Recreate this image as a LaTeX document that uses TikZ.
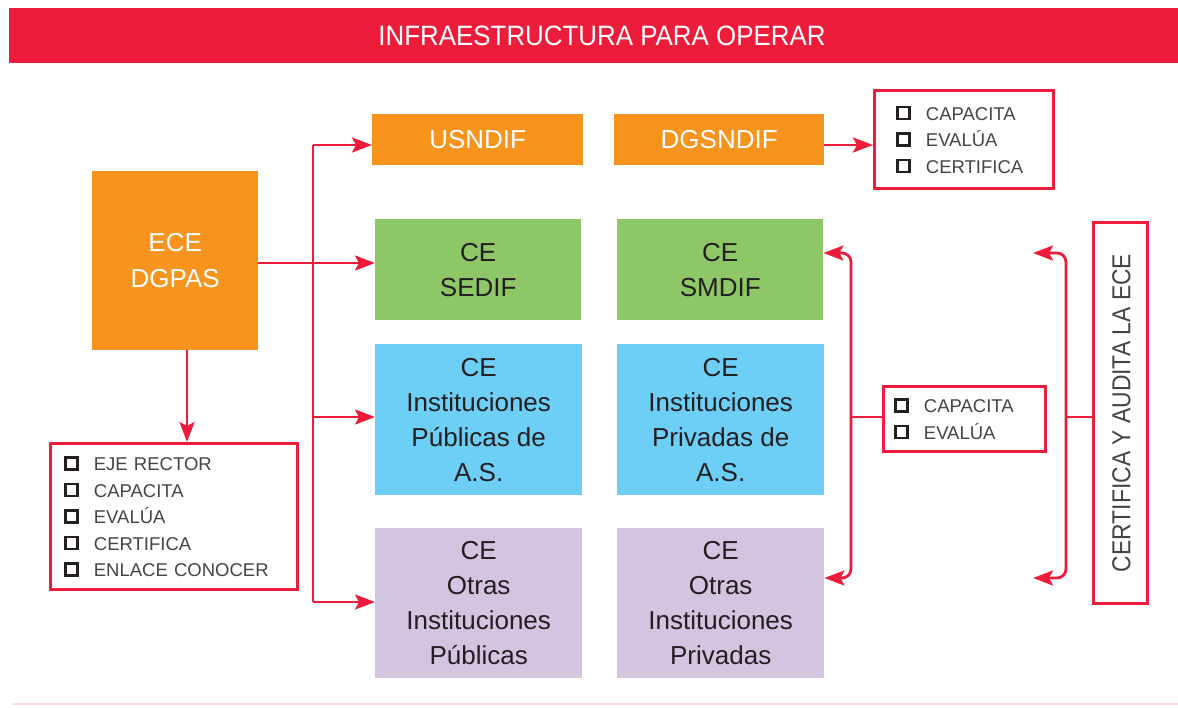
\documentclass[tikz,border=0pt]{standalone}
\usepackage{fontspec}
\setmainfont{Liberation Sans}
\usepackage{xcolor}
\usepackage{graphicx}
\usetikzlibrary{arrows.meta}
\definecolor{cred}{HTML}{EE1C3B}
\definecolor{corange}{HTML}{F7941D}
\definecolor{cgreen}{HTML}{8DC767}
\definecolor{cblue}{HTML}{6DCFF6}
\definecolor{clav}{HTML}{D3C4E0}
\definecolor{ctext}{HTML}{231F20}
\definecolor{clist}{HTML}{444444}
\definecolor{cpink}{HTML}{FBDDE2}
\newcommand\boxmark{\raisebox{2.5pt}{\setlength{\fboxrule}{2.5pt}\setlength{\fboxsep}{0pt}\fcolorbox{ctext}{white}{\rule{0pt}{9.5pt}\rule{9.5pt}{0pt}}}}
\newcommand\itm[1]{\boxmark\hspace{15pt}#1}
\begin{document}
\begin{tikzpicture}[x=1pt,y=-1pt,
  box/.style={rectangle, inner sep=0pt, anchor=north west, align=center, font=\fontsize{26}{35}\selectfont, text=ctext},
  listbox/.style={rectangle, draw=cred, line width=2.8pt, anchor=north west, align=left, inner ysep=0pt, text=clist, font=\fontsize{18.5}{26.5}\selectfont, fill=white},
  conn/.style={draw=cred, line width=2.8pt},
  arr/.style={conn, -{Stealth[length=20pt,width=15pt,inset=4pt]}},
  dblarr/.style={conn, {Stealth[length=20pt,width=15pt,inset=4pt]}-{Stealth[length=20pt,width=15pt,inset=4pt]}, rounded corners=9pt}
]
\useasboundingbox (0,0) rectangle (1178,707);

% title
\node[fill=cred, anchor=north west, minimum width=1169pt, minimum height=55pt, inner sep=0pt] (titlebar) at (9,8) {};
\node[text=white, font=\fontsize{28}{28}\selectfont, anchor=base, inner sep=0pt] (titletext) at (602,45) {\scalebox{0.925}[1]{INFRAESTRUCTURA PARA OPERAR}};

% boxes
\node[box, fill=corange, text=white, minimum width=211pt, minimum height=51pt] (usndif) at (372,114) {USNDIF};
\node[box, fill=corange, text=white, minimum width=210pt, minimum height=51pt] (dgsndif) at (614,114) {DGSNDIF};
\node[box, fill=corange, text=white, minimum width=166pt, minimum height=179pt, font=\fontsize{26}{36}\selectfont] (ece) at (92,171) {ECE\\DGPAS};
\node[box, fill=cgreen, minimum width=206pt, minimum height=101pt] (sedif) at (375,219) {CE\\SEDIF};
\node[box, fill=cgreen, minimum width=206pt, minimum height=101pt] (smdif) at (617,219) {CE\\SMDIF};
\node[box, fill=cblue, minimum width=207pt, minimum height=151pt] (pub) at (375,344) {CE\\Instituciones\\Públicas de\\A.S.};
\node[box, fill=cblue, minimum width=207pt, minimum height=151pt] (priv) at (617,344) {CE\\Instituciones\\Privadas de\\A.S.};
\node[box, fill=clav, minimum width=207pt, minimum height=150pt] (opub) at (375,528) {CE\\Otras\\Instituciones\\Públicas};
\node[box, fill=clav, minimum width=207pt, minimum height=150pt] (opriv) at (617,528) {CE\\Otras\\Instituciones\\Privadas};

% list boxes
\node[listbox, inner xsep=14pt, text width=219pt, minimum height=146pt] (list1) at (49,442)
  {\itm{EJE RECTOR}\\\itm{CAPACITA}\\\itm{EVALÚA}\\\itm{CERTIFICA}\\\itm{ENLACE CONOCER}};
\node[listbox, inner xsep=22pt, text width=135pt, minimum height=98pt] (list2) at (873,89)
  {\itm{CAPACITA}\\\itm{EVALÚA}\\\itm{CERTIFICA}};
\node[listbox, inner xsep=11pt, text width=140pt, minimum height=65pt] (midbox) at (882,385)
  {\itm{CAPACITA}\\\itm{EVALÚA}};
\node[rectangle, draw=cred, line width=2.8pt, anchor=north west, minimum width=54pt, minimum height=381pt, inner sep=0pt] (vbox) at (1092,221) {};
\node[rotate=90, text=clist, font=\fontsize{26}{26}\selectfont, inner sep=0pt] (vtext) at ([xshift=1pt]vbox.center) {\scalebox{0.88}[1]{CERTIFICA Y AUDITA LA ECE}};

% bus connectors
\coordinate (busT) at (313,145);
\coordinate (busS) at (313,263);
\coordinate (busP) at (313,417);
\coordinate (busB) at (313,602);
\draw[conn] (busT) -- (busB);
\draw[arr] (busT) -- (busT -| usndif.west);
\draw[arr] (ece.east |- busS) -- (busS -| sedif.west);
\draw[arr] (busP) -- (busP -| pub.west);
\draw[arr] (busB) -- (busB -| opub.west);

% ECE down
\coordinate (eceD) at (187,350);
\draw[arr] (eceD) -- (eceD |- list1.north);

% DGSNDIF to list
\draw[arr] (dgsndif.east |- busT) -- (busT -| list2.west);

% left bracket
\coordinate (lbT) at (851,253);
\coordinate (lbM) at (851,417);
\coordinate (lbB) at (851,578);
\draw[dblarr] (lbT -| smdif.east) -- (lbT) -- (lbB) -- (lbB -| opriv.east);
\draw[conn] (lbM) -- (lbM -| midbox.west);

% right bracket
\coordinate (rbTe) at (1033,253);
\coordinate (rbT) at (1066,253);
\coordinate (rbM) at (1066,417);
\coordinate (rbB) at (1066,578);
\coordinate (rbBe) at (1033,578);
\draw[dblarr] (rbTe) -- (rbT) -- (rbB) -- (rbBe);
\draw[conn] (rbM) -- (rbM -| vbox.west);

% bottom line
\draw[draw=cpink, line width=1.5pt] (12,704) -- (1178,704);
\end{tikzpicture}
\end{document}
